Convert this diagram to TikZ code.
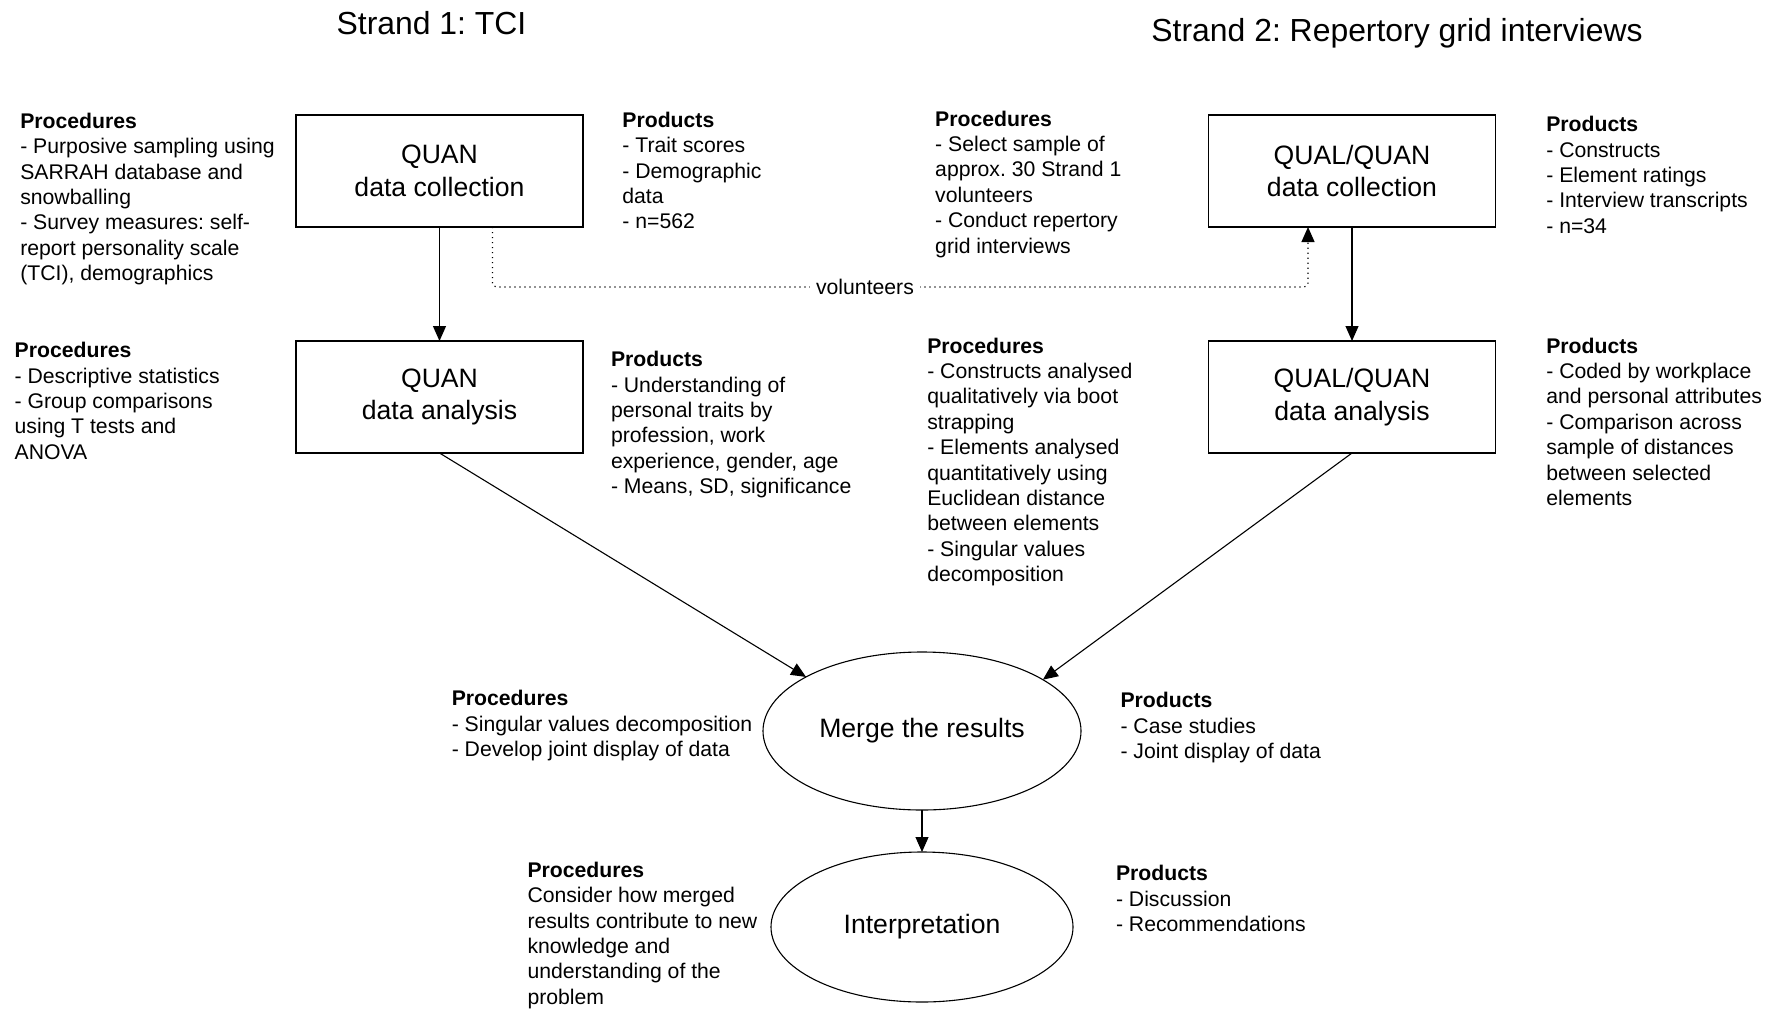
\documentclass[tikz,border=0pt]{standalone}
\usepackage{fontspec}
\setmainfont{Liberation Sans}
\usetikzlibrary{shapes.geometric,arrows.meta}
\frenchspacing

\begin{document}
\begin{tikzpicture}[x=1pt,y=-1pt,
  every node/.style={inner sep=0pt, outer sep=0pt},
  stage/.style={draw, line width=1.1pt, minimum width=287pt, minimum height=112pt,
    align=center, font=\fontsize{26.6}{32.8}\selectfont},
  oval/.style={draw, ellipse, line width=1.1pt, align=center,
    font=\fontsize{26.6}{32.8}\selectfont},
  notes/.style={anchor=north west, align=left, font=\fontsize{21.2}{25.4}\selectfont},
  heading/.style={font=\fontsize{31.9}{38}\selectfont},
  flow/.style={line width=1.1pt, -{Triangle[length=15pt,width=13pt]}},
  linkdots/.style={line width=1.2pt, dash pattern=on 1.2pt off 3.8pt, rounded corners=4pt,
    -{Triangle[length=15pt,width=13pt]}},
]
\useasboundingbox (0,0) rectangle (1771,1009);

% strand titles
\node[heading] (t1) at (431.5,22.6) {Strand 1: TCI};
\node[heading] (t2) at (1397,33) {Strand 2: Repertory grid interviews};

% stages
\node[stage] (qc) at (439.5,171) {QUAN\\data collection};
\node[stage] (qa) at (439.5,397) {QUAN\\data analysis};
\node[stage] (lc) at (1352,171) {QUAL/QUAN\\data collection};
\node[stage] (la) at (1352,397) {QUAL/QUAN\\data analysis};
\node[oval, minimum width=318pt, minimum height=158pt] (mg) at (922,731) {Merge the results};
\node[oval, minimum width=302pt, minimum height=150pt] (ip) at (922,927) {Interpretation};

% procedures and products
\node[notes] (pa) at (20.3,113) {\textbf{Procedures}\\- Purposive sampling using\\SARRAH database and\\snowballing\\- Survey measures: self-\\report personality scale\\(TCI), demographics};
\node[notes] (pb) at (622.4,111.9) {\textbf{Products}\\- Trait scores\\- Demographic\\data\\- n=562};
\node[notes] (pc) at (935.2,110.8) {\textbf{Procedures}\\- Select sample of\\approx. 30 Strand 1\\volunteers\\- Conduct repertory\\grid interviews};
\node[notes] (pd) at (1546.3,116.4) {\textbf{Products}\\- Constructs\\- Element ratings\\- Interview transcripts\\- n=34};
\node[notes] (pe) at (14.7,342.3) {\textbf{Procedures}\\- Descriptive statistics\\- Group comparisons\\using T tests and\\ANOVA};
\node[notes] (pf) at (611,351.3) {\textbf{Products}\\- Understanding of\\personal traits by\\profession, work\\experience, gender, age\\- Means, SD, significance};
\node[notes] (pg) at (927.3,337.8) {\textbf{Procedures}\\- Constructs analysed\\qualitatively via boot\\strapping\\- Elements analysed\\quantitatively using\\Euclidean distance\\between elements\\- Singular values\\decomposition};
\node[notes] (ph) at (1546.3,337.8) {\textbf{Products}\\- Coded by workplace\\and personal attributes\\- Comparison across\\sample of distances\\between selected\\elements};
\node[notes] (pi) at (451.8,690.3) {\textbf{Procedures}\\- Singular values decomposition\\- Develop joint display of data};
\node[notes] (pj) at (1120.5,692.3) {\textbf{Products}\\- Case studies\\- Joint display of data};
\node[notes] (pk) at (527.5,861.9) {\textbf{Procedures}\\Consider how merged\\results contribute to new\\knowledge and\\understanding of the\\problem};
\node[notes] (pl) at (1116,865.3) {\textbf{Products}\\- Discussion\\- Recommendations};

% connectors
\draw[flow] (qc) -- (qa);
\draw[flow] (lc) -- (la);
\draw[flow] (qa.south) -- (mg.155);
\draw[flow] (la.south) -- (mg.23);
\draw[flow] (mg) -- (ip);

% volunteers link between the strands
\coordinate (vl) at (492.5,287);
\coordinate (vr) at (1308,287);
\draw[linkdots] (qc.south -| vl) -- (vl) -- (vr) -- (lc.south -| vr);
\node[fill=white, inner xsep=6pt, inner ysep=3pt, font=\fontsize{21.2}{25.4}\selectfont] (vol) at (865,287) {volunteers};
\end{tikzpicture}
\end{document}
